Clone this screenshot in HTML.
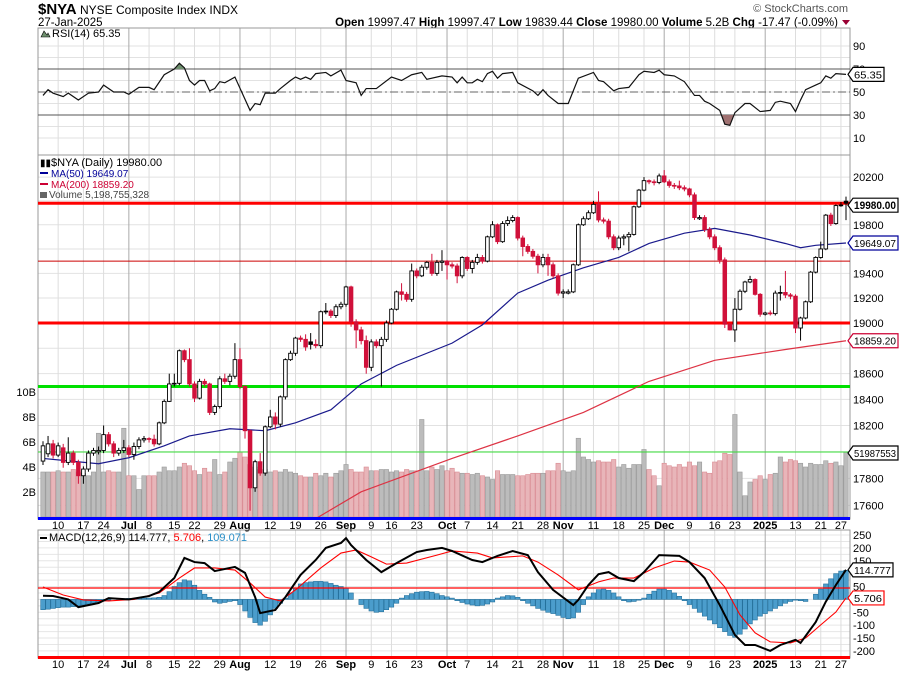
<!DOCTYPE html>
<html><head><meta charset="utf-8">
<style>
html,body{margin:0;padding:0;background:#fff;}
svg{display:block;font-family:"Liberation Sans",sans-serif;}
</style></head>
<body>
<svg id="chart" width="900" height="673" viewBox="0 0 900 673" xmlns="http://www.w3.org/2000/svg">
<rect x="0" y="0" width="900" height="673" fill="#fff"/>
<text x="38" y="14" font-size="15" font-weight="bold" fill="#000">$NYA</text>
<text x="80" y="14" font-size="12" fill="#000">NYSE Composite Index  INDX</text>
<text x="38" y="26" font-size="11.5" fill="#000">27-Jan-2025</text>
<text x="848" y="12" font-size="11" fill="#555" text-anchor="end">© StockCharts.com</text>
<text x="838" y="26" font-size="11.5" text-anchor="end" fill="#000"><tspan font-weight="bold">Open</tspan> 19997.47  <tspan font-weight="bold">High</tspan> 19997.47  <tspan font-weight="bold">Low</tspan> 19839.44  <tspan font-weight="bold">Close</tspan> 19980.00  <tspan font-weight="bold">Volume</tspan> 5.2B  <tspan font-weight="bold">Chg</tspan> -17.47 (-0.09%)</text>
<polygon points="842,20 850,20 846,25" fill="#990033"/>
<g id="grid"></g>
<g id="marks"></g>
<g id="overlay"></g>
</svg>
<script>
// ---------- data ----------
const opens=[17930,17985,18060,17975,18030,17920,17990,17920,17820,17870,17990,18000,18010,18130,18060,17990,18010,18030,17980,18040,18090,18100,18095,18060,18220,18385,18520,18525,18780,18710,18520,18410,18540,18520,18300,18345,18560,18540,18580,18710,18500,18160,17730,17925,17840,18190,18265,18210,18420,18710,18760,18880,18870,18850,18830,18820,19090,19095,19060,19130,19150,19290,19010,18945,18860,18650,18850,18820,18870,19000,19110,19250,19230,19190,19420,19380,19450,19490,19400,19490,19500,19470,19460,19380,19530,19440,19490,19530,19500,19700,19800,19660,19810,19835,19860,19690,19620,19580,19540,19470,19530,19470,19380,19240,19240,19250,19470,19800,19850,19900,19970,19840,19830,19700,19610,19690,19700,19720,19950,20090,20170,20160,20155,20210,20160,20130,20125,20110,20100,20050,19850,19860,19760,19700,19610,19510,18990,18945,19110,19255,19330,19350,19230,19070,19080,19075,19240,19245,19225,19215,18960,19040,19170,19410,19530,19600,19880,19810,19960,19997];
const closes=[18045,18060,17975,18045,17920,17990,17920,17820,17870,17990,18010,18010,18130,18060,17990,18010,18030,17980,18040,18090,18100,18095,18060,18220,18385,18520,18525,18780,18710,18520,18410,18540,18520,18300,18345,18560,18540,18580,18710,18500,18160,17730,17925,17840,18190,18265,18210,18420,18710,18760,18880,18870,18810,18830,18820,19090,19095,19060,19130,19150,19290,19010,18945,18860,18650,18850,18820,18870,19000,19110,19250,19230,19190,19420,19380,19450,19490,19400,19490,19500,19470,19460,19380,19530,19440,19490,19530,19500,19700,19800,19660,19810,19835,19860,19690,19620,19580,19540,19470,19530,19470,19380,19240,19250,19250,19470,19800,19850,19900,19970,19840,19830,19700,19610,19690,19700,19720,19950,20090,20170,20160,20155,20210,20160,20130,20125,20110,20100,20050,19860,19860,19760,19700,19610,19510,18990,18945,19110,19255,19330,19350,19230,19070,19080,19075,19240,19245,19225,19215,18960,19040,19170,19410,19530,19600,19880,19810,19960,19965,19980];
const highs=[18080,18120,18090,18070,18060,18110,18010,17940,17890,18010,18030,18040,18200,18150,18080,18030,18090,18050,18070,18110,18120,18110,18130,18230,18400,18600,18600,18790,18790,18800,18540,18560,18560,18530,18360,18580,18600,18600,18840,18800,18510,18170,17940,17990,18200,18320,18300,18430,18720,18780,18890,18900,18910,18920,18870,19100,19160,19110,19150,19170,19300,19300,19030,18970,18900,18870,18870,18890,19020,19120,19260,19320,19250,19480,19440,19470,19500,19560,19510,19590,19510,19490,19480,19540,19540,19510,19560,19550,19710,19830,19810,19830,19870,19880,19870,19710,19640,19600,19560,19560,19560,19490,19400,19270,19270,19480,19810,19870,19920,20000,20080,19860,19850,19720,19710,19720,19740,19960,20100,20200,20180,20180,20230,20260,20180,20150,20170,20130,20110,20070,19880,19880,19780,19720,19630,19530,19000,19200,19270,19340,19380,19360,19240,19090,19100,19260,19300,19420,19240,19230,19050,19180,19420,19540,19660,19890,19900,19970,19990,20035];
const lows=[17900,17960,17950,17960,17880,17900,17900,17760,17760,17850,17970,17980,17990,18040,17960,17970,17990,17960,17940,18020,18070,18070,18040,18050,18210,18380,18500,18510,18690,18500,18380,18400,18500,18280,18280,18330,18520,18510,18560,18480,18100,17560,17700,17820,17820,18180,18170,18190,18400,18700,18740,18850,18780,18790,18800,18800,19070,19040,19040,19110,19130,18970,18800,18830,18600,18620,18800,18500,18850,18990,19100,19180,19170,19170,19360,19370,19430,19380,19380,19420,19350,19440,19320,19360,19420,19400,19470,19480,19490,19690,19640,19650,19790,19820,19670,19540,19560,19520,19400,19450,19380,19360,19220,19200,19230,19240,19460,19790,19840,19890,19820,19810,19680,19590,19590,19630,19580,19710,19940,20080,20140,20130,20140,20150,20110,20100,20090,20080,20030,19840,19840,19740,19680,19590,19480,18960,18940,18850,19100,19240,19320,19220,19050,19060,19060,19060,19180,19200,19190,18920,18860,19030,19160,19400,19520,19590,19790,19800,19950,19839];
const volumesB=[3.6,3.6,3.6,3.7,3.6,3.6,3.8,3.6,3.5,3.3,3.6,6.7,3.6,3.7,3.6,3.6,7.1,3.3,3.3,2.2,3.3,3.3,3.3,3.6,4.0,3.7,3.7,4.0,4.3,4.1,3.7,3.4,3.9,3.6,4.6,3.4,3.6,4.4,4.7,5.2,4.8,4.2,4.0,3.8,3.8,3.6,3.7,3.6,3.8,3.6,3.5,3.3,3.2,3.2,3.5,3.3,3.5,3.2,3.5,3.7,4.2,3.8,3.6,3.6,4.0,3.7,3.7,3.8,3.8,3.6,3.7,3.6,3.8,3.7,3.7,7.8,3.7,4.0,3.8,4.1,3.7,3.9,3.6,3.5,3.5,3.4,3.5,3.3,3.2,3.0,3.7,3.4,3.4,3.4,3.3,3.3,3.4,3.5,3.5,3.5,3.7,3.7,4.3,3.7,3.6,3.7,6.3,4.8,4.6,4.4,4.5,4.4,4.4,4.6,4.0,4.2,3.9,4.2,4.2,5.4,3.8,3.3,2.5,4.3,4.1,4.0,4.2,4.0,4.4,4.1,4.4,3.6,3.5,4.4,4.5,5.1,5.0,8.2,3.6,1.7,2.8,3.0,3.3,3.0,3.4,3.5,4.8,4.4,4.6,4.5,4.3,4.0,4.3,4.2,4.2,4.5,4.3,4.4,4.1,5.2];
const ma50Idx=[0,4,11,17,24,29,37,44,50,57,63,70,81,87,94,100,107,114,120,127,133,140,147,150,153,159];
const ma50Val=[17950,17935,17910,17955,18045,18120,18175,18160,18220,18320,18520,18665,18840,18985,19240,19345,19445,19530,19645,19730,19770,19715,19645,19610,19630,19649];
const ma200Idx=[53,63,81,94,107,120,133,147,159];
const ma200Val=[17480,17700,17950,18120,18300,18540,18705,18790,18859];
const rsiIdx=[0,1,2,4,5,7,9,11,12,14,16,17,19,21,22,24,26,27,28,29,30,31,32,33,34,35,36,38,41,42,43,44,46,47,49,50,51,52,53,54,56,57,59,60,62,63,64,66,69,71,73,75,76,79,81,82,83,84,85,86,87,88,89,90,91,93,94,97,98,99,100,102,104,106,109,110,111,113,114,116,118,119,121,122,123,125,127,129,130,131,132,134,135,136,137,139,140,142,144,145,146,148,149,150,151,153,154,155,156,157,159];
const rsiVal=[47,52,49,46,49,43,49,50,56,50,50,48,54,54,52,65,70,75,71,60,56,60,60,51,53,59,58,63,34,40,39,49,49,53,60,63,61,63,61,66,67,64,69,60,58,47,53,53,63,60,65,67,61,64,63,58,63,58,58,61,59,66,68,62,66,67,58,51,47,52,47,40,40,62,67,60,59,51,53,54,65,68,67,69,65,64,59,47,47,42,40,34,22,21,32,40,40,33,34,41,42,40,33,43,52,56,58,64,62,66,65.35];
const macdIdx=[0,2,5,7,11,13,17,21,23,26,28,30,32,34,38,40,42,43,46,48,51,54,56,59,60,61,64,67,70,74,76,79,81,85,87,90,93,96,98,101,105,106,108,110,112,114,117,119,122,126,128,131,134,137,139,141,144,146,149,150,153,155,157,159];
const macdVal=[14,13,0,-30,-14,5,0,13,29,83,161,145,141,110,126,103,9,-53,-41,9,95,153,200,219,238,211,153,106,141,184,192,200,188,153,145,169,188,172,106,37,-22,-2,56,98,106,83,71,106,172,169,145,83,-22,-138,-177,-177,-200,-177,-157,-169,-88,-9,56,114.8];
const signalIdx=[0,4,8,13,18,23,27,30,34,38,41,44,47,50,55,59,62,65,68,72,78,81,86,89,95,98,102,106,110,113,117,121,125,128,132,135,138,141,144,148,151,154,157,159];
const signalVal=[48,17,-2,-6,0,25,83,122,122,114,64,9,-6,37,122,180,192,165,137,141,172,188,180,161,169,145,95,37,68,83,83,122,149,145,114,48,-60,-130,-165,-169,-150,-99,-49,5.7];
const histVal=[-40,-38,-35,-32,-30,-30,-28,-25,-22,-18,-14,-10,-6,-3,0,2,3,4,3,4,5,5,6,8,15,30,50,65,76,72,55,35,20,8,-10,-15,-12,-8,-5,-20,-45,-70,-90,-100,-85,-60,-35,-15,5,25,45,60,65,68,70,70,68,62,55,50,45,25,0,-20,-35,-45,-50,-48,-40,-30,-15,5,15,22,28,30,31,28,22,15,10,5,-5,-12,-18,-22,-25,-23,-18,-10,5,10,15,14,8,-5,-15,-25,-35,-42,-50,-55,-62,-70,-75,-72,-50,-20,10,25,38,40,35,25,10,-5,-10,-8,-3,5,20,32,40,40,35,25,12,-5,-20,-35,-50,-65,-80,-95,-110,-125,-140,-147,-135,-115,-95,-80,-65,-55,-45,-35,-25,-15,-8,-3,-5,-8,0,20,40,60,80,100,110,113];
const dateLabels=["10","17","24","Jul","8","15","22","29","Aug","12","19","26","Sep","9","16","23","Oct","7","14","21","28","Nov","11","18","25","Dec","9","16","23","2025","13","21","27"];
const dateIdx=[3,8,12,17,21,26,30,35,39,45,50,55,60,65,69,74,80,84,89,94,99,103,109,114,119,123,128,133,137,143,149,154,158];
const priceTicks=[20200,19800,19400,19200,19000,18600,18400,18200,17800,17600];
const volTicks=[2,4,6,8,10];
const rsiTicks=[90,70,50,30,10];
const macdTicks=[250,200,150,100,50,-50,-100,-150,-200];

// ---------- axes ----------
const X0=38,X1=850;
const n=closes.length;
const xOf=i=>43+i*(803/(n-1));
const yP=v=>323-Math.log(v/19000)*2382;
const yV=v=>517-v*12.5;
const yR=v=>92-(v-50)*1.15;
const yM=v=>599.4-v*0.2575;
const NS="http://www.w3.org/2000/svg";
function mk(tag,attrs,parent){const e=document.createElementNS(NS,tag);for(const k in attrs)e.setAttribute(k,attrs[k]);parent.appendChild(e);return e;}
const grid=document.getElementById('grid'),marks=document.getElementById('marks'),ov=document.getElementById('overlay');

const defs=mk('defs',{},grid);
const cp=mk('clipPath',{id:'clipMain'},defs);mk('rect',{x:X0,y:155,width:X1-X0,height:364},cp);
const cpr=mk('clipPath',{id:'clipRsi'},defs);mk('rect',{x:X0,y:28,width:X1-X0,height:127},cpr);
const cpOB=mk('clipPath',{id:'clipOB'},defs);mk('rect',{x:X0,y:28,width:X1-X0,height:yR(70)-28},cpOB);
const cpOS=mk('clipPath',{id:'clipOS'},defs);mk('rect',{x:X0,y:yR(30),width:X1-X0,height:155-yR(30)},cpOS);
const cpm=mk('clipPath',{id:'clipMacd'},defs);mk('rect',{x:X0,y:530,width:X1-X0,height:128},cpm);

for(let v=10;v<=90;v+=10){const l=mk('line',{x1:X0,x2:X1,y1:yR(v),y2:yR(v),stroke:'#e2e2e2'},grid);

}
for(let v=17600;v<=20400;v+=200){if(yP(v)<156)continue;const l=mk('line',{x1:X0,x2:X1,y1:yP(v),y2:yP(v),stroke:'#e2e2e2'},grid);

}
for(let v=-200;v<=250;v+=25){const l=mk('line',{x1:X0,x2:X1,y1:yM(v),y2:yM(v),stroke:'#e6e6e6'},grid);

}
dateLabels.forEach((lab,k)=>{
  const x=xOf(dateIdx[k]);const major=isNaN(+lab)||lab==="2025";
  [[28,155],[155,519],[530,658]].forEach(([a,b])=>{const l=mk('line',{x1:x,x2:x,y1:a,y2:b,stroke:major?'#aaaaaa':'#dddddd'},grid);
  
  });
  [529,668].forEach(yy=>{const t=mk('text',{x:x,y:yy,'font-size':11,'text-anchor':'middle','font-weight':major?'bold':'normal',fill:'#000'},grid);t.textContent=lab;
  
  });
});
[[28,127],[155,364],[530,128]].forEach(([y,h])=>{const r=mk('rect',{x:X0,y:y,width:X1-X0,height:h,fill:'none',stroke:'#999'},grid);

});

// ---------- RSI ----------
const rl1=mk('line',{x1:X0,x2:X1,y1:yR(70),y2:yR(70),stroke:'#555'},marks);

const rl2=mk('line',{x1:X0,x2:X1,y1:yR(30),y2:yR(30),stroke:'#555'},marks);

const rl3=mk('line',{x1:X0,x2:X1,y1:yR(50),y2:yR(50),stroke:'#666','stroke-dasharray':'8,3,2,3'},marks);

const rpts=rsiIdx.map((i,k)=>[xOf(i),yR(rsiVal[k])]);
const rstr=rpts.map(p=>p.join(',')).join(' ');
const ob=mk('polygon',{points:rstr+` ${rpts[rpts.length-1][0]},${yR(70)} ${rpts[0][0]},${yR(70)}`,fill:'#6e8f6e','clip-path':'url(#clipOB)'},marks);

const os=mk('polygon',{points:rstr+` ${rpts[rpts.length-1][0]},${yR(30)} ${rpts[0][0]},${yR(30)}`,fill:'#a07272','clip-path':'url(#clipOS)'},marks);

const rline=mk('polyline',{points:rstr,fill:'none',stroke:'#111','stroke-width':1.2,'clip-path':'url(#clipRsi)'},marks);


// ---------- Volume ----------
volumesB.forEach((v,i)=>{
  const down=i>0&&closes[i]<closes[i-1];
  const r=mk('rect',{x:xOf(i)-2.2,y:yV(v),width:4.4,height:517-yV(v),fill:down?'#e8b5b9':'#bcbcbc',stroke:down?'#d98a92':'#9a9a9a','stroke-width':0.6},marks);
  
  
});
function hline(v,color,w,name){const l=mk('line',{x1:X0,x2:X1,y1:yP(v),y2:yP(v),stroke:color,'stroke-width':w},marks);}
hline(19980,'#ff0000',3,'resistance-line');
hline(19000,'#ff0000',3,'support-line');
hline(19500,'#cc0000',1,'mid-level-line');
hline(18500,'#00e000',3,'green-level-line');
const gl=mk('line',{x1:X0,x2:X1,y1:452,y2:452,stroke:'#33dd33','stroke-width':1},marks);


// ---------- MAs ----------
const m200=mk('polyline',{points:ma200Idx.map((i,k)=>xOf(i)+','+yP(ma200Val[k])).join(' '),fill:'none',stroke:'#dd3344','stroke-width':1.2,'clip-path':'url(#clipMain)'},marks);

const m50=mk('polyline',{points:ma50Idx.map((i,k)=>xOf(i)+','+yP(ma50Val[k])).join(' '),fill:'none',stroke:'#1a1a8c','stroke-width':1.2,'clip-path':'url(#clipMain)'},marks);


// ---------- candles ----------
closes.forEach((c,i)=>{
  const o=opens[i],x=xOf(i);
  const red=i>0?c<closes[i-1]:false;
  const col=red?'#d0103a':'#000';
  const w=mk('line',{x1:x,x2:x,y1:yP(highs[i]),y2:yP(lows[i]),stroke:col,'stroke-width':1},marks);
  
  
  const top=yP(Math.max(o,c)),bot=yP(Math.min(o,c));
  const b=mk('rect',{x:x-1.8,y:top,width:3.6,height:Math.max(0.8,bot-top),fill:c<o?col:'#fff',stroke:col,'stroke-width':0.9},marks);
  
  
});
const bl=mk('rect',{x:X0,y:517,width:X1-X0,height:3,fill:'#0000ff'},marks);


// ---------- MACD ----------
histVal.forEach((h,i)=>{
  const y0=yM(0),y1=yM(h);
  const r=mk('rect',{x:xOf(i)-2.3,y:Math.min(y0,y1),width:4.6,height:Math.abs(y1-y0),fill:'#4b9dcc',stroke:'#25719c','stroke-width':0.6},marks);
  
  
});
const ml1=mk('line',{x1:X0,x2:X1,y1:588,y2:588,stroke:'#ff0000','stroke-width':1.2},marks);

const ml2=mk('rect',{x:X0,y:656,width:X1-X0,height:3,fill:'#ff0000'},marks);

const sl=mk('polyline',{points:signalIdx.map((i,k)=>xOf(i)+','+yM(signalVal[k])).join(' '),fill:'none',stroke:'#ff0000','stroke-width':1.1,'clip-path':'url(#clipMacd)'},marks);

const mlin=mk('polyline',{points:macdIdx.map((i,k)=>xOf(i)+','+yM(macdVal[k])).join(' '),fill:'none',stroke:'#000','stroke-width':2,'clip-path':'url(#clipMacd)'},marks);


// ---------- right axes ----------
function rtext(y,s,name,color){const t=mk('text',{x:853,y:y+4,'font-size':11,fill:color||'#000'},ov);t.textContent=s;}
priceTicks.forEach(v=>rtext(yP(v),String(v),'price-tick-label'));
rsiTicks.forEach(v=>rtext(yR(v),String(v),'rsi-tick-label'));
macdTicks.forEach(v=>rtext(yM(v),String(v),'macd-tick-label'));
volTicks.forEach(v=>{const t=mk('text',{x:36,y:yV(v)+4,'font-size':11,'text-anchor':'end',fill:'#000'},ov);t.textContent=v+'B';

});
function tag(y,s,name,stroke,bold,w){
  const g=mk('g',{},ov);
  mk('polygon',{points:`848,${y} 853,${y-7} ${853+w},${y-7} ${853+w},${y+7} 853,${y+7}`,fill:'#fff',stroke:stroke,'stroke-width':1.2},g);
  const t=mk('text',{x:854,y:y+4,'font-size':bold?11:10.5,'font-weight':bold?'bold':'normal',fill:'#000',textLength:w-3,lengthAdjust:'spacingAndGlyphs'},g);t.textContent=s;
}
tag(yP(19980)+2,'19980.00','last-price-tag','#000',true,45);
tag(yP(19649.07),'19649.07','ma50-tag','#000099',false,45);
tag(yP(18859.2),'18859.20','ma200-tag','#cc0033',false,45);
tag(453,'51987553','volume-tag','#000',false,45);
tag(yR(65.35),'65.35','rsi-value-tag','#000',false,31);
tag(yM(114.777),'114.777','macd-value-tag','#000',false,40);
tag(yM(5.706),'5.706','signal-value-tag','#ff0000',false,31);

// ---------- legends ----------
function ltext(x,y,html,name,size){const t=mk('text',{x:x,y:y,'font-size':size||11,fill:'#000'},ov);t.innerHTML=html;return t;}
const ri=mk('polygon',{points:'41,37 44,31 47,35 48,33 50,37',fill:'#6e8f6e',stroke:'#000','stroke-width':0.6},ov);

ltext(52,37,'RSI(14) 65.35','rsi-legend');
ltext(51,166,'$NYA (Daily) 19980.00','price-legend');
const ci=mk('text',{x:40,y:166,'font-size':10,fill:'#000'},ov);ci.textContent='▮▮';
const l50=mk('rect',{x:40,y:172,width:8,height:2,fill:'#000099'},ov);
ltext(51,177,'<tspan fill="#000099">MA(50) 19649.07</tspan>','ma50-legend',10);
const l200=mk('rect',{x:40,y:183,width:8,height:2,fill:'#cc0033'},ov);
ltext(51,188,'<tspan fill="#cc0033">MA(200) 18859.20</tspan>','ma200-legend',10);
const vi=mk('rect',{x:40,y:192,width:7,height:6,fill:'#666'},ov);
ltext(49,198,'<tspan fill="#444">Volume 5,198,755,328</tspan>','volume-legend',10);
const mi=mk('rect',{x:40,y:537,width:7,height:2,fill:'#000'},ov);
ltext(49,541,'MACD(12,26,9) 114.777, <tspan fill="#ff0000">5.706</tspan>, <tspan fill="#2a8fc8">109.071</tspan>','macd-legend');
</script>
</body></html>
